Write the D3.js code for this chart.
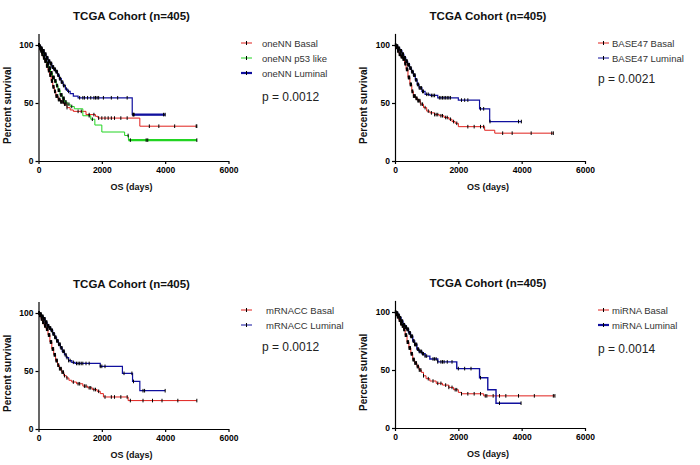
<!DOCTYPE html>
<html><head><meta charset="utf-8">
<script src="https://cdn.jsdelivr.net/npm/d3@7"></script>
<style>body{margin:0;background:#fff}svg{display:block}</style>
</head><body><svg id="c" width="700" height="465"></svg>
<script>
// ---------- DATA ----------
const titles = ["TCGA Cohort (n=405)","TCGA Cohort (n=405)","TCGA Cohort (n=405)","TCGA Cohort (n=405)"];
const pValues = ["p = 0.0012","p = 0.0021","p = 0.0012","p = 0.0014"];
const xTicks = [0,2000,4000,6000];
const yTicks = [0,50,100];
const xLabel = "OS (days)";
const yLabel = "Percent survival";

const earlyCensorA = [10,22,34,46,58,70,82,94,106,118,130,142,154,166,178,190,202,214,226,238,250,262,274,286,298,310,322,334,346,358,370,382,394,406,418,430,442,454,466,478,490,505,520,535,550,565,580,595,610,625,640,660,680,700,720,740,765,790];
const earlyCensorB = [16,28,40,52,64,76,88,100,112,124,136,148,160,172,184,196,208,220,232,244,256,268,280,292,304,316,328,340,352,364,376,388,400,414,428,442,456,470,484,498,512,526,540,556,572,588,604,620,636,652,670,688,706,724,745,765,790,815,840,870,900];

// Panel 1 : oneNN
const oneNNBasalSteps = [[30,98],[60,95],[100,92],[150,89],[200,86],[250,82],[300,78],[350,74],[400,69],[450,64],[500,60],[550,56],[620,53],[700,51],[800,49],[900,46],[1000,44],[1100,42.8],[1500,40],[1800,38.5],[1880,37],[3200,30]];
const oneNNBasalCensor = earlyCensorA.concat([820,860,900,1250,1350,1600,1750,1900,2000,2100,2200,2300,2400,2600,2800,3500,3800,4300,4980,5000]);
const oneNNBasalEnd = 5000;
const oneNNp53Steps = [[40,97],[90,94],[150,90],[200,87],[260,84],[320,80],[380,76],[440,72],[500,69],[560,65],[620,61],[680,57],[750,54],[820,51],[900,49],[1000,47],[1130,45],[1400,39],[1650,36],[1780,31],[2000,25],[2720,22],[2840,18]];
const oneNNp53Censor = earlyCensorB.concat([960,1050,1600,1700,2830,2900,3400,3450,5000]);
const oneNNp53End = 5000;
const oneNNLumSteps = [[30,99],[70,97],[120,95],[180,92],[240,89],[300,86],[360,84],[420,81],[480,79],[540,77],[600,74],[660,71],[720,68],[780,65],[850,62],[920,60],[1000,58],[1100,56],[1250,54.5],[2960,40]];
const oneNNLumCensor = earlyCensorA.concat([830,880,950,1300,1400,1450,1550,1650,1750,1800,1850,1900,2050,2300,2500,2800,2980,3000,3020,3950,4000]);
const oneNNLumEnd = 4000;

// Panel 2 : BASE47
const base47BasalSteps = [[30,98],[80,95],[130,92],[180,90],[250,88],[300,84],[350,79],[410,72],[470,66],[530,60],[580,56],[650,54],[720,52],[800,49],[900,46],[1000,43],[1100,41.5],[1250,40],[1400,39],[1550,37.5],[1700,36],[1800,34],[1900,32.5],[2000,29.6],[2830,26.5],[3150,24]];
const base47BasalCensor = earlyCensorA.concat([820,870,950,1050,1150,1250,1300,1350,1450,1500,1600,1650,1750,1850,1950,2300,2500,2700,2800,3400,3700,4300,4950,5000]);
const base47BasalEnd = 5000;
const base47LumSteps = [[40,99],[90,97],[150,95],[220,92],[280,89],[340,86],[400,83],[460,80],[520,77],[580,74],[640,70],[700,66],[760,63],[850,60],[950,57.5],[1100,56.5],[1350,54.5],[2000,52.5],[2670,45],[2990,34]];
const base47LumCensor = earlyCensorB.concat([880,1000,1050,1150,1200,1250,1400,1450,1500,1550,1600,1650,1700,1750,2100,2200,2300,2700,2800,3000,3900,3990]);
const base47LumEnd = 3990;

// Panel 3 : mRNACC
const mrnaccBasalSteps = [[30,98],[80,95],[130,92],[180,89],[240,86],[300,81],[360,75],[420,69],[480,64],[540,59],[600,55],[660,52],[730,49],[800,46],[880,44],[960,42],[1050,40.5],[1200,39],[1400,37],[1550,35.5],[1700,34],[1850,32.5],[1950,30.5],[2050,27.6],[2830,24.5]];
const mrnaccBasalCensor = earlyCensorA.concat([820,900,1100,1250,1300,1450,1500,1600,1650,1750,1800,1900,2100,2300,2400,2600,2800,2900,3300,3600,3900,4400,5000]);
const mrnaccBasalEnd = 5000;
const mrnaccLumSteps = [[40,99],[90,97],[150,95],[210,92],[270,89],[330,87],[390,85],[450,82],[510,79],[570,76],[630,73],[690,70],[750,67],[820,64],[880,61.5],[950,59],[1050,57.5],[1150,56.5],[1950,54],[2650,48],[2970,41],[3200,33]];
const mrnaccLumCensor = earlyCensorB.concat([950,1000,1100,1200,1250,1300,1350,1400,1500,1600,1950,2000,2100,2700,2950,3000,3300,3350,4000]);
const mrnaccLumEnd = 4000;

// Panel 4 : miRNA
const mirnaBasalSteps = [[30,98],[70,96],[120,93],[170,90],[220,88],[270,85],[320,80],[380,74],[440,69],[500,64],[560,59],[620,56],[690,53],[760,50],[830,48],[900,45],[980,42.5],[1100,40.5],[1300,38.5],[1500,37],[1700,35],[1850,33],[2000,30.7],[2100,29.5],[2800,27.7]];
const mirnaBasalCensor = earlyCensorA.concat([820,900,1050,1200,1350,1450,1600,1700,1800,1900,1950,2100,2300,2500,2700,2850,2900,3100,3300,3500,3900,4400,5000,5050]);
const mirnaBasalEnd = 5050;
const mirnaLumSteps = [[40,99],[90,97],[140,95],[190,92],[250,89],[310,87],[370,85],[430,82],[490,79],[560,75],[620,72],[690,68],[760,66],[850,64],[950,62],[1100,59.5],[1350,57],[1950,51.2],[2670,43.3],[2930,33],[3190,21.4]];
const mirnaLumCensor = earlyCensorB.concat([950,1000,1200,1250,1300,1350,1450,1500,1550,1650,1800,2000,2200,2400,2700,3300,3980]);
const mirnaLumEnd = 3980;

// ---------- LAYOUT ----------
const C = {red:"#e0201c", green:"#22d422", blue:"#10109e"};
const panels = [
  {x0:38.5, y0:161, legX:241, legY:43, txtX:262, pX:262, pY:96, series:[
    {name:"oneNN Basal", color:C.red, w:1, steps:oneNNBasalSteps, cens:oneNNBasalCensor, end:oneNNBasalEnd},
    {name:"oneNN p53 like", color:C.green, w:1, steps:oneNNp53Steps, cens:oneNNp53Censor, end:oneNNp53End, thickFrom:2840},
    {name:"oneNN Luminal", color:C.blue, w:1.2, steps:oneNNLumSteps, cens:oneNNLumCensor, end:oneNNLumEnd, legW:2.2, thickFrom:2960}]},
  {x0:395, y0:161, legX:598, legY:43, txtX:612, pX:598, pY:78, series:[
    {name:"BASE47 Basal", color:C.red, w:1, steps:base47BasalSteps, cens:base47BasalCensor, end:base47BasalEnd},
    {name:"BASE47 Luminal", color:C.blue, w:1.2, steps:base47LumSteps, cens:base47LumCensor, end:base47LumEnd}]},
  {x0:38.5, y0:429, legX:241, legY:310, txtX:266, pX:262, pY:346, series:[
    {name:"mRNACC Basal", color:C.red, w:1, steps:mrnaccBasalSteps, cens:mrnaccBasalCensor, end:mrnaccBasalEnd},
    {name:"mRNACC Luminal", color:C.blue, w:1.2, steps:mrnaccLumSteps, cens:mrnaccLumCensor, end:mrnaccLumEnd}]},
  {x0:395, y0:428, legX:598, legY:310, txtX:612, pX:598, pY:348, series:[
    {name:"miRNA Basal", color:C.red, w:1, steps:mirnaBasalSteps, cens:mirnaBasalCensor, end:mirnaBasalEnd},
    {name:"miRNA Luminal", color:C.blue, w:1.4, steps:mirnaLumSteps, cens:mirnaLumCensor, end:mirnaLumEnd, legW:2.2}]}
];

const svg = d3.select("#c");
const FONT = "'Liberation Sans', Arial, sans-serif";

function survAt(steps, t){
  let s = 100;
  for (const [tt, v] of steps){ if (tt <= t) s = v; else break; }
  return s;
}

panels.forEach((p, i) => {
  const x = d3.scaleLinear().domain([0,6000]).range([p.x0, p.x0 + 190]);
  const y = d3.scaleLinear().domain([0,110]).range([p.y0, p.y0 - 127.6]);
  const g = svg.append("g");

  g.append("text").attr("x", x(3000) - 2).attr("y", y(0) - 141)
    .attr("text-anchor","middle").attr("font-family",FONT).attr("font-weight","bold")
    .attr("font-size",11.5).attr("fill","#111").text(titles[i]);

  const ya = g.append("g").attr("transform",`translate(${p.x0},0)`)
    .call(d3.axisLeft(y).tickValues(yTicks).tickSize(3).tickSizeOuter(0).tickPadding(2).tickFormat(d3.format("d")));
  const xa = g.append("g").attr("transform",`translate(0,${p.y0})`)
    .call(d3.axisBottom(x).tickValues(xTicks).tickSize(3).tickSizeOuter(0).tickPadding(3).tickFormat(d3.format("d")));
  [ya, xa].forEach(a => {
    a.selectAll("path,line").attr("stroke","#000").attr("stroke-width",1.2);
    a.selectAll("text").attr("font-family",FONT).attr("font-weight","bold").attr("font-size",8.5).attr("fill","#000");
  });

  g.append("text").attr("transform",`translate(${p.x0 - 28},${y(48)}) rotate(-90)`)
    .attr("text-anchor","middle").attr("font-family",FONT).attr("font-weight","bold")
    .attr("font-size",10).attr("fill","#111").text(yLabel);
  g.append("text").attr("x", x(3000) - 2).attr("y", p.y0 + 29)
    .attr("text-anchor","middle").attr("font-family",FONT).attr("font-weight","bold")
    .attr("font-size",9).attr("fill","#111").text(xLabel);

  const line = d3.line().x(d => x(d[0])).y(d => y(d[1])).curve(d3.curveStepAfter);
  p.series.forEach(s => {
    const pts = [[0,100]].concat(s.steps, [[s.end, s.steps[s.steps.length-1][1]]]);
    g.append("path").attr("d", line(pts)).attr("fill","none")
      .attr("stroke", s.color).attr("stroke-width", s.w);
    if (s.thickFrom){
      const v = survAt(s.steps, s.thickFrom);
      g.append("line").attr("x1", x(s.thickFrom)).attr("x2", x(s.end))
        .attr("y1", y(v)).attr("y2", y(v)).attr("stroke", s.color).attr("stroke-width", 2.2);
    }
  });
  p.series.forEach(s => {
    g.append("g").selectAll("line").data(s.cens).join("line")
      .attr("x1", d => x(d)).attr("x2", d => x(d))
      .attr("y1", d => y(survAt(s.steps, d)) - 1.8).attr("y2", d => y(survAt(s.steps, d)) + 1.8)
      .attr("stroke","#000").attr("stroke-width",1);
  });

  p.series.forEach((s, k) => {
    const ly = p.legY + k * 15;
    g.append("line").attr("x1", p.legX).attr("x2", p.legX + 11).attr("y1", ly).attr("y2", ly)
      .attr("stroke", s.color).attr("stroke-width", s.legW || 1);
    g.append("line").attr("x1", p.legX + 5.5).attr("x2", p.legX + 5.5).attr("y1", ly - 2).attr("y2", ly + 2)
      .attr("stroke","#000").attr("stroke-width",1);
    g.append("text").attr("x", p.txtX).attr("y", ly + 3.5).attr("font-family",FONT)
      .attr("font-size",9.5).attr("fill","#333").text(s.name);
  });
  g.append("text").attr("x", p.pX).attr("y", p.pY + 4.5).attr("font-family",FONT)
    .attr("font-size",12).attr("fill","#222").text(pValues[i]);
});
</script></body></html>
